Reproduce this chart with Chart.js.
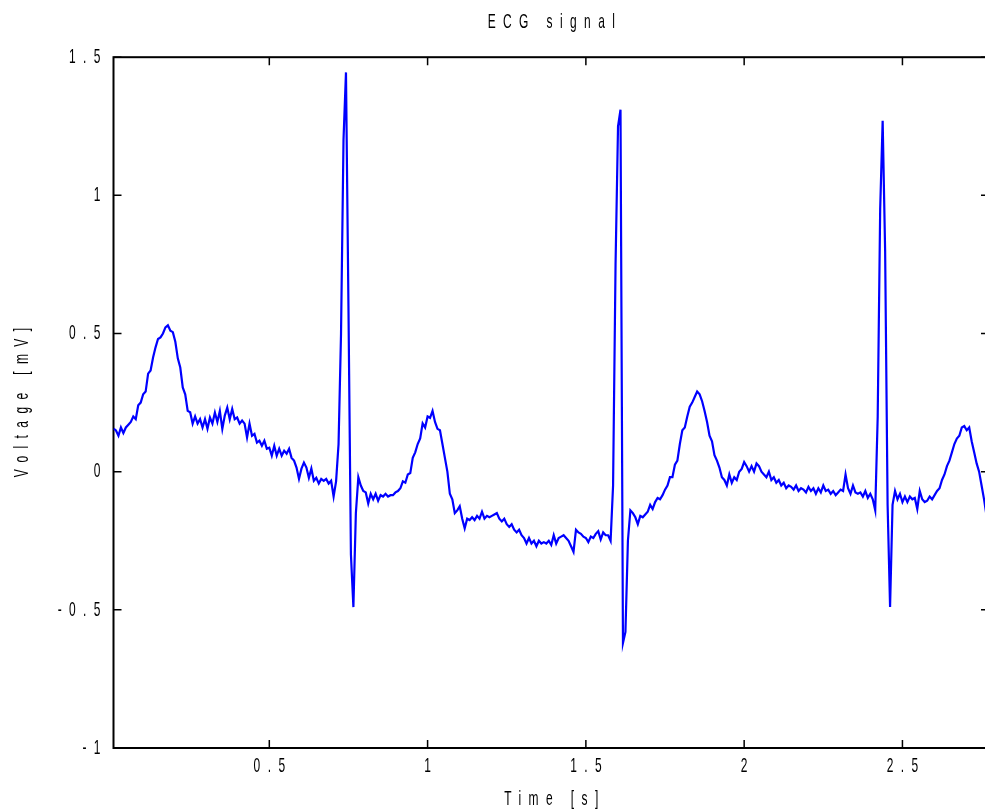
<!DOCTYPE html>
<html>
<head>
<meta charset="utf-8">
<script src="https://cdn.jsdelivr.net/npm/chart.js@4.4.1/dist/chart.umd.min.js"></script>
<style>
  html, body { margin: 0; padding: 0; background: #fff; overflow: hidden; }
  canvas { display: block; }
</style>
</head>
<body>
<canvas id="c" width="992" height="812"></canvas>
<script>
// ---- data ----
const chartTitle = 'ECG signal';
const xAxisTitle = 'Time [s]';
const yAxisTitle = 'Voltage [mV]';
const sampleRate = 128;            // samples per second
const xTickValues = [0.5, 1, 1.5, 2, 2.5];
const xTickLabels = ['0.5', '1', '1.5', '2', '2.5'];
const yTickValues = [-1, -0.5, 0, 0.5, 1, 1.5];
const yTickLabels = ['-1', '-0.5', '0', '0.5', '1', '1.5'];

// voltage samples [mV], split into pieces
const segmentA = [0.156, 0.149, 0.13, 0.16, 0.14, 0.16, 0.17, 0.18, 0.20, 0.19,
  0.24, 0.25, 0.28, 0.29, 0.355, 0.366, 0.413, 0.45, 0.48, 0.486,
  0.50, 0.522, 0.53, 0.51, 0.505, 0.47, 0.41, 0.377, 0.305, 0.28,
  0.22, 0.215, 0.174, 0.20, 0.174, 0.19, 0.16, 0.19, 0.155, 0.196,
  0.174, 0.214, 0.18, 0.22, 0.155, 0.203, 0.232, 0.19, 0.227, 0.19,
  0.196, 0.174, 0.185, 0.174, 0.124, 0.174, 0.13, 0.137, 0.105, 0.112,
  0.094, 0.112, 0.083, 0.087, 0.058, 0.094, 0.058, 0.083, 0.058, 0.076,
  0.065, 0.083, 0.05, 0.04, 0.015, -0.026, 0.011, 0.033, 0.015, -0.022,
  0.011, -0.033, -0.022, -0.043, -0.026, -0.033, -0.026, -0.043, -0.033, -0.09];
const segmentB = [-0.035, 0.1, 0.5, 1.2, 1.445, 0.6, -0.3, -0.49, -0.15, -0.02,
  -0.05, -0.07, -0.075, -0.115, -0.08, -0.10, -0.08, -0.105, -0.085, -0.09,
  -0.08, -0.09, -0.085, -0.085, -0.075, -0.07, -0.06, -0.035, -0.04, -0.01,
  -0.005, 0.05, 0.07, 0.10, 0.12, 0.175, 0.16, 0.20, 0.195, 0.22,
  0.18, 0.155, 0.15, 0.10, 0.05, 0.0, -0.08, -0.10, -0.15, -0.14,
  -0.125, -0.17, -0.205, -0.17, -0.175, -0.165, -0.175, -0.16, -0.17, -0.145,
  -0.17, -0.16, -0.165, -0.16, -0.155, -0.15, -0.17, -0.18, -0.17, -0.19,
  -0.20, -0.19, -0.21, -0.22, -0.21, -0.23, -0.24, -0.26, -0.24, -0.26,
  -0.25, -0.27, -0.25, -0.26, -0.255, -0.26, -0.25, -0.265, -0.23, -0.26,
  -0.24, -0.235, -0.23, -0.24, -0.25, -0.27, -0.29, -0.21, -0.22, -0.225,
  -0.235, -0.24, -0.255, -0.235, -0.24, -0.225, -0.215, -0.245, -0.22, -0.23];
const segmentC = [-0.23, -0.25, -0.05, 0.75, 1.25, 1.31, -0.62, -0.58, -0.25, -0.14,
  -0.15, -0.165, -0.19, -0.16, -0.165, -0.155, -0.145, -0.12, -0.135, -0.11,
  -0.095, -0.10, -0.085, -0.065, -0.05, -0.02, -0.02, 0.025, 0.04, 0.10,
  0.15, 0.16, 0.20, 0.235, 0.25, 0.27, 0.29, 0.28, 0.255, 0.22,
  0.18, 0.13, 0.11, 0.06, 0.04, 0.015, -0.02, -0.03, -0.05, -0.01,
  -0.04, -0.02, -0.03, 0.0, 0.01, 0.035, 0.02, 0.0, 0.02, 0.0,
  0.03, 0.02, 0.0, -0.01, -0.02, 0.0, -0.03, -0.02, -0.04, -0.03,
  -0.05, -0.04, -0.06, -0.05, -0.055, -0.065, -0.05, -0.07, -0.06, -0.065,
  -0.075, -0.055, -0.07, -0.06, -0.08, -0.06, -0.075, -0.05, -0.07, -0.065,
  -0.08, -0.07, -0.085, -0.075, -0.065, -0.07, -0.01, -0.06, -0.08, -0.05];
const segmentD = [-0.075, -0.08, -0.075, -0.09, -0.07, -0.095, -0.08, -0.10, -0.14, 0.2,
  0.95, 1.27, 0.8, -0.12, -0.49, -0.12, -0.07, -0.10, -0.08, -0.11,
  -0.09, -0.11, -0.09, -0.10, -0.095, -0.135, -0.07, -0.10, -0.11, -0.105,
  -0.09, -0.10, -0.085, -0.07, -0.06, -0.03, -0.01, 0.02, 0.04, 0.07,
  0.10, 0.12, 0.13, 0.16, 0.165, 0.15, 0.16, 0.11, 0.07, 0.03,
  0.0, -0.05, -0.10, -0.16, -0.2];

const voltage = [].concat(segmentA, segmentB, segmentC, segmentD);
const points = voltage.map((v, i) => ({ x: (i + 1) / sampleRate, y: v }));

// ---- text style: condensed, widely spaced glyphs ----
const TEXT_SX = 0.57, TEXT_LS = 13;
const canvas = document.getElementById('c');
const ctx = canvas.getContext('2d');
const origFill = ctx.fillText.bind(ctx);
ctx.fillText = function (text, x, y) {
  const a = this.textAlign;
  const off = a === 'center' ? TEXT_LS / 2 : (a === 'right' || a === 'end') ? TEXT_LS : 0;
  this.save();
  this.translate(x, y);
  this.scale(TEXT_SX, 1);
  try { this.letterSpacing = TEXT_LS + 'px'; } catch (e) {}
  origFill(text, off, 0);
  this.restore();
};

const FONT = { family: "'Liberation Sans', Arial, sans-serif", size: 21 };

const boxPlugin = {
  id: 'matlabBox',
  beforeDatasetsDraw(chart) {
    const { ctx, chartArea: a, scales: { x, y } } = chart;
    ctx.save();
    ctx.strokeStyle = '#000';
    ctx.lineWidth = 2;
    ctx.strokeRect(a.left, a.top, a.right - a.left, a.bottom - a.top);
    ctx.lineWidth = 1.5;
    ctx.beginPath();
    const L = 8;
    x.ticks.forEach(t => {
      const px = x.getPixelForValue(t.value);
      ctx.moveTo(px, a.bottom); ctx.lineTo(px, a.bottom - L);
      ctx.moveTo(px, a.top); ctx.lineTo(px, a.top + L);
    });
    y.ticks.forEach(t => {
      const py = y.getPixelForValue(t.value);
      ctx.moveTo(a.left, py); ctx.lineTo(a.left + L, py);
      ctx.moveTo(a.right, py); ctx.lineTo(a.right - L, py);
    });
    ctx.stroke();
    ctx.restore();
  }
};

new Chart(ctx, {
  type: 'line',
  data: {
    datasets: [{
      label: 'ECG',
      data: points,
      borderColor: '#0000ff',
      borderWidth: 2.2,
      pointRadius: 0,
      tension: 0,
      fill: false
    }]
  },
  options: {
    responsive: false,
    animation: false,
    events: [],
    layout: { padding: { left: 0, top: 0, right: 3, bottom: 0 } },
    plugins: {
      legend: { display: false },
      tooltip: { enabled: false },
      title: {
        display: true,
        text: chartTitle,
        color: '#000',
        fullSize: false,
        font: { ...FONT, weight: 'normal' },
        padding: { top: 10, bottom: 22 }
      }
    },
    scales: {
      x: {
        type: 'linear',
        min: 1 / sampleRate,
        max: voltage.length / sampleRate,
        afterBuildTicks: s => { s.ticks = xTickValues.map(v => ({ value: v })); },
        afterFit: s => { s.height = 64; },
        grid: { display: false, drawTicks: false },
        border: { display: false },
        ticks: {
          color: '#000', font: FONT, padding: 6, maxRotation: 0, autoSkip: false,
          callback: (v) => { const i = xTickValues.indexOf(v); return i >= 0 ? xTickLabels[i] : ''; }
        },
        title: { display: true, text: xAxisTitle, color: '#000', font: FONT, padding: { top: 0, bottom: 0 } }
      },
      y: {
        type: 'linear',
        min: -1,
        max: 1.5,
        afterBuildTicks: s => { s.ticks = yTickValues.map(v => ({ value: v })); },
        afterFit: s => { s.width = 113.5; },
        grid: { display: false, drawTicks: false },
        border: { display: false },
        ticks: {
          color: '#000', font: FONT, padding: 13, autoSkip: false,
          callback: (v) => { const i = yTickValues.indexOf(v); return i >= 0 ? yTickLabels[i] : ''; }
        },
        title: { display: true, text: yAxisTitle, color: '#000', font: FONT, padding: { top: 10, bottom: 0 } }
      }
    }
  },
  plugins: [boxPlugin]
});
</script>
</body>
</html>
